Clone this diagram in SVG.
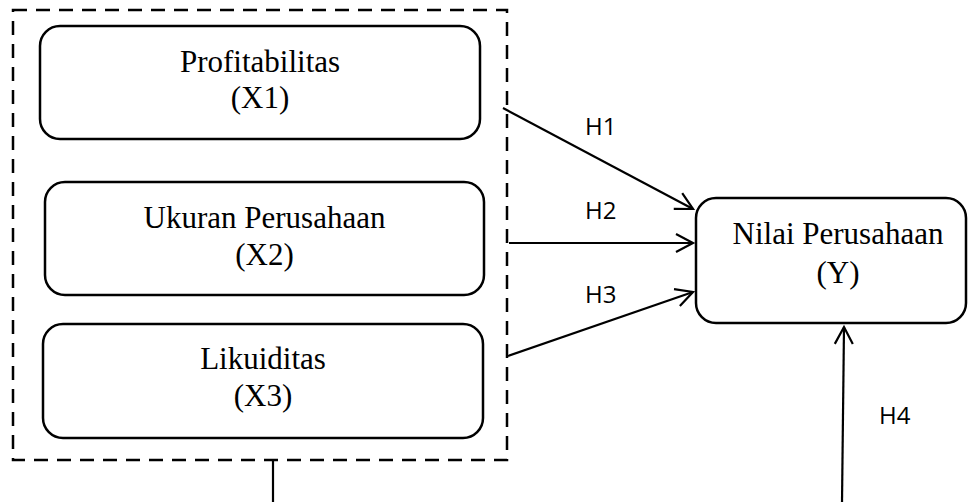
<svg xmlns="http://www.w3.org/2000/svg" width="969" height="502" viewBox="0 0 969 502">
<style>
.box{fill:#fff;stroke:#000;stroke-width:2.5}
.t{font-family:"Liberation Serif","Times New Roman",serif;font-size:31px;text-anchor:middle;fill:#000}
.lbl{font-family:"Open Sans","Noto Sans",sans-serif;font-size:24px;fill:#000}
.c{stroke:#000;stroke-width:2.2;fill:none}
</style>
<defs>
<marker id="ah" markerUnits="userSpaceOnUse" viewBox="-20 -12 24 24" markerWidth="24" markerHeight="24" refX="0" refY="0" orient="auto" overflow="visible">
<path d="M-17,-9 L0,0 L-17,9" fill="none" stroke="#000" stroke-width="2.2"/>
</marker>
</defs>
<g id="group-box">
<rect x="13" y="10" width="494" height="450" fill="none" stroke="#000" stroke-width="2.5" stroke-dasharray="14,9"/>
</g>
<g id="x1">
<rect class="box" x="40" y="26" width="440" height="113" rx="20"/>
<text class="t" x="260" y="72">Profitabilitas</text>
<text class="t" x="260" y="108">(X1)</text>
</g>
<g id="x2">
<rect class="box" x="45" y="182" width="439" height="113" rx="20"/>
<text class="t" x="264.5" y="228">Ukuran Perusahaan</text>
<text class="t" x="264.5" y="265">(X2)</text>
</g>
<g id="x3">
<rect class="box" x="43" y="324" width="440" height="114" rx="20"/>
<text class="t" x="263" y="369">Likuiditas</text>
<text class="t" x="263" y="406">(X3)</text>
</g>
<g id="y">
<rect class="box" x="696" y="198" width="270" height="125" rx="20"/>
<text class="t" x="838" y="244">Nilai Perusahaan</text>
<text class="t" x="838" y="283">(Y)</text>
</g>
<g id="connectors">
<line class="c" x1="503" y1="108" x2="693" y2="209" marker-end="url(#ah)"/>
<line class="c" x1="509" y1="243" x2="693" y2="243" marker-end="url(#ah)"/>
<line class="c" x1="508" y1="356" x2="693" y2="292" marker-end="url(#ah)"/>
<line class="c" x1="842" y1="502" x2="844" y2="327" marker-end="url(#ah)"/>
<line class="c" x1="273" y1="460" x2="273" y2="502"/>
</g>
<g id="labels">
<text class="lbl" x="585" y="135">H1</text>
<text class="lbl" x="585" y="219">H2</text>
<text class="lbl" x="585" y="303">H3</text>
<text class="lbl" x="879" y="424">H4</text>
</g>
</svg>
